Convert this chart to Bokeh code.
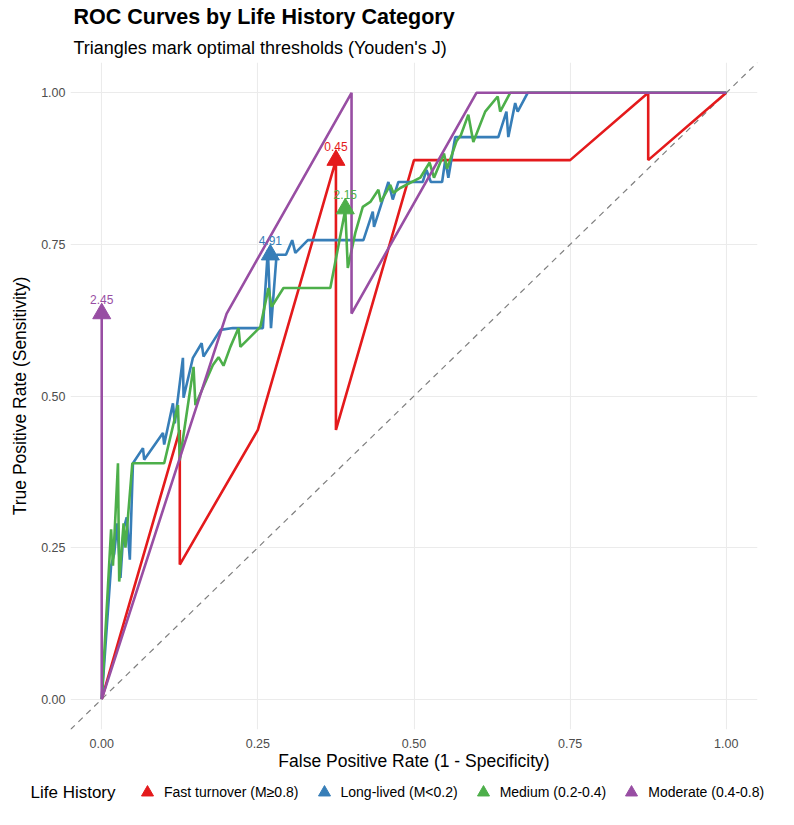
from bokeh.plotting import figure
from bokeh.layouts import column
from bokeh.models import (ColumnDataSource, Legend, LegendItem, Label, Title, Slope,
                          FixedTicker, NumeralTickFormatter, Range1d)
from bokeh.core.properties import value
from bokeh.embed import file_html
from bokeh.resources import INLINE

FONT = "Liberation Sans"

legend_title = "Life History"
groups = ["Fast turnover (M\u22650.8)", "Long-lived (M<0.2)", "Medium (0.2-0.4)", "Moderate (0.4-0.8)"]
colors = ["#E41A1C", "#377EB8", "#4DAF4A", "#984EA3"]

fast_fpr = [0.0, 0.125, 0.125, 0.25, 0.375, 0.375, 0.5, 0.75, 0.875, 0.875, 1.0]
fast_tpr = [0.0, 0.444, 0.222, 0.444, 0.889, 0.444, 0.889, 0.889, 1.0, 0.889, 1.0]

long_fpr = [0.0, 0.015, 0.02, 0.025, 0.03, 0.035, 0.04, 0.045, 0.05, 0.066, 0.068,
            0.098, 0.1, 0.114, 0.117, 0.13, 0.131, 0.146, 0.16, 0.163, 0.19, 0.21,
            0.258, 0.266, 0.271, 0.28, 0.295, 0.305, 0.31, 0.33, 0.41, 0.419, 0.434,
            0.436, 0.459, 0.466, 0.475, 0.514, 0.52, 0.527, 0.545, 0.55, 0.555, 0.566,
            0.635, 0.648, 0.651, 0.662, 0.666, 0.682, 1.0]
long_tpr = [0.0, 0.22, 0.24, 0.29, 0.20, 0.28, 0.30, 0.23, 0.389, 0.414, 0.395,
            0.439, 0.42, 0.488, 0.455, 0.563, 0.497, 0.563, 0.587, 0.565, 0.609, 0.612,
            0.612, 0.741, 0.612, 0.733, 0.733, 0.757, 0.736, 0.757, 0.757, 0.757, 0.804,
            0.779, 0.853, 0.824, 0.853, 0.853, 0.873, 0.853, 0.853, 0.889, 0.86, 0.927,
            0.927, 0.969, 0.927, 0.983, 0.969, 1.0, 1.0]

med_fpr = [0.0, 0.015, 0.018, 0.026, 0.028, 0.035, 0.038, 0.049, 0.1, 0.122, 0.125,
           0.147, 0.15, 0.178, 0.187, 0.195, 0.206, 0.219, 0.222, 0.254, 0.267, 0.272,
           0.291, 0.366, 0.39, 0.394, 0.406, 0.418, 0.43, 0.443, 0.447, 0.462, 0.467,
           0.478, 0.51, 0.525, 0.532, 0.548, 0.553, 0.568, 0.575, 0.587, 0.595, 0.614,
           0.634, 0.638, 0.654, 1.0]
med_tpr = [0.0, 0.28, 0.22, 0.389, 0.194, 0.29, 0.25, 0.389, 0.389, 0.485, 0.394,
           0.548, 0.485, 0.551, 0.564, 0.55, 0.581, 0.612, 0.581, 0.614, 0.678, 0.647,
           0.678, 0.678, 0.807, 0.711, 0.769, 0.812, 0.82, 0.84, 0.82, 0.848, 0.835,
           0.843, 0.86, 0.885, 0.86, 0.90, 0.875, 0.92, 0.93, 0.964, 0.919, 0.969,
           0.994, 0.969, 1.0, 1.0]

mod_fpr = [0.0, 0.0, 0.2, 0.4, 0.4, 0.6, 1.0]
mod_tpr = [0.636, 0.0, 0.636, 1.0, 0.636, 1.0, 1.0]

curves_fpr = [fast_fpr, long_fpr, med_fpr, mod_fpr]
curves_tpr = [fast_tpr, long_tpr, med_tpr, mod_tpr]

opt_fpr = [0.375, 0.27, 0.39, 0.0]
opt_tpr = [0.889, 0.733, 0.809, 0.636]
opt_threshold = ["0.45", "4.91", "2.15", "2.45"]

tick_values = [0.0, 0.25, 0.5, 0.75, 1.0]

# ---------------- main plot ----------------
p = figure(width=778, height=775, x_range=Range1d(-0.05, 1.05), y_range=Range1d(-0.05, 1.05),
           output_backend="svg", toolbar_location=None,
           min_border_left=70, min_border_right=21, min_border_bottom=46, min_border_top=0,
           title="ROC Curves by Life History Category")
p.frame_align = False
p.outline_line_color = None
p.background_fill_color = "white"

p.title.text_font = FONT
p.title.text_font_size = "21.5px"
p.title.text_font_style = "bold"
p.title.text_color = "black"
p.title.offset = 3
p.title.standoff = 4
p.add_layout(Title(text="Triangles mark optimal thresholds (Youden's J)", text_font=FONT,
                   text_font_size="18px", text_font_style="normal", text_color="black",
                   offset=3, standoff=10), "above")

for ax in (p.xaxis, p.yaxis):
    ax.ticker = FixedTicker(ticks=tick_values)
    ax.formatter = NumeralTickFormatter(format="0.00")
    ax.axis_line_color = None
    ax.major_tick_line_color = None
    ax.minor_tick_line_color = None
    ax.major_tick_out = 0
    ax.major_tick_in = 0
    ax.major_label_text_font = FONT
    ax.major_label_text_font_size = "12.5px"
    ax.major_label_text_color = "#4D4D4D"
    ax.axis_label_text_font = FONT
    ax.axis_label_text_font_size = "17.5px"
    ax.axis_label_text_font_style = "normal"
    ax.axis_label_text_color = "black"

p.xaxis.axis_label = "False Positive Rate (1 - Specificity)"
p.yaxis.axis_label = "True Positive Rate (Sensitivity)"
p.xaxis.major_label_standoff = 9
p.xaxis.axis_label_standoff = 0
p.yaxis.major_label_standoff = 5
p.yaxis.axis_label_standoff = 8

p.grid.grid_line_color = "#EBEBEB"
p.grid.grid_line_width = 1.1
p.grid.minor_grid_line_color = None

p.add_layout(Slope(gradient=1, y_intercept=0, line_color="#7F7F7F", line_width=1.2,
                   line_dash="6 5", level="underlay"))

for i in range(len(groups)):
    src = ColumnDataSource(dict(x=curves_fpr[i], y=curves_tpr[i]))
    p.line("x", "y", source=src, line_color=colors[i], line_width=2.6)

for i in range(len(groups)):
    osrc = ColumnDataSource(dict(x=[opt_fpr[i]], y=[opt_tpr[i]]))
    p.scatter("x", "y", source=osrc, marker="triangle", size=18,
              fill_color=colors[i], line_color=colors[i])

label_offset = 0.023
lsrc = ColumnDataSource(dict(x=opt_fpr, y=[t + label_offset for t in opt_tpr],
                             text=opt_threshold, color=colors))
p.text("x", "y", text="text", source=lsrc, text_color="color", text_align="center",
       text_baseline="middle", text_font=value(FONT), text_font_size="12px")

# ---------------- legend strip ----------------
lf = figure(width=778, height=34, x_range=Range1d(-0.05, 1.05), y_range=Range1d(-0.05, 1.05),
            output_backend="svg", toolbar_location=None, x_axis_type=None, y_axis_type=None,
            min_border_left=0, min_border_right=0, min_border_top=0, min_border_bottom=0)
lf.frame_align = False
lf.outline_line_color = None
lf.background_fill_color = "white"

key_renderers = []
for i in range(len(groups)):
    ksrc = ColumnDataSource(dict(x=[opt_fpr[i]], y=[opt_tpr[i]]))
    r = lf.scatter("x", "y", source=ksrc, marker="triangle",
                   fill_color=colors[i], line_color=colors[i], visible=False)
    key_renderers.append(r)

items = [LegendItem(label=groups[i], renderers=[key_renderers[i]]) for i in range(len(groups))]
legend = Legend(items=items, orientation="horizontal", location=(130, 2),
                glyph_width=34, glyph_height=30, label_standoff=0, spacing=8,
                padding=0, margin=0, border_line_color=None, background_fill_alpha=0,
                inactive_fill_alpha=0,
                label_text_font=FONT, label_text_font_size="14px", label_text_color="black")
lf.add_layout(legend, "center")

lf.add_layout(Label(x=30, y=17, x_units="screen", y_units="screen", text=legend_title,
                    text_font=FONT, text_font_size="17px", text_baseline="middle",
                    text_color="black"))

layout = column(p, lf, spacing=0)
open("out.html", "w").write(file_html(layout, INLINE))
